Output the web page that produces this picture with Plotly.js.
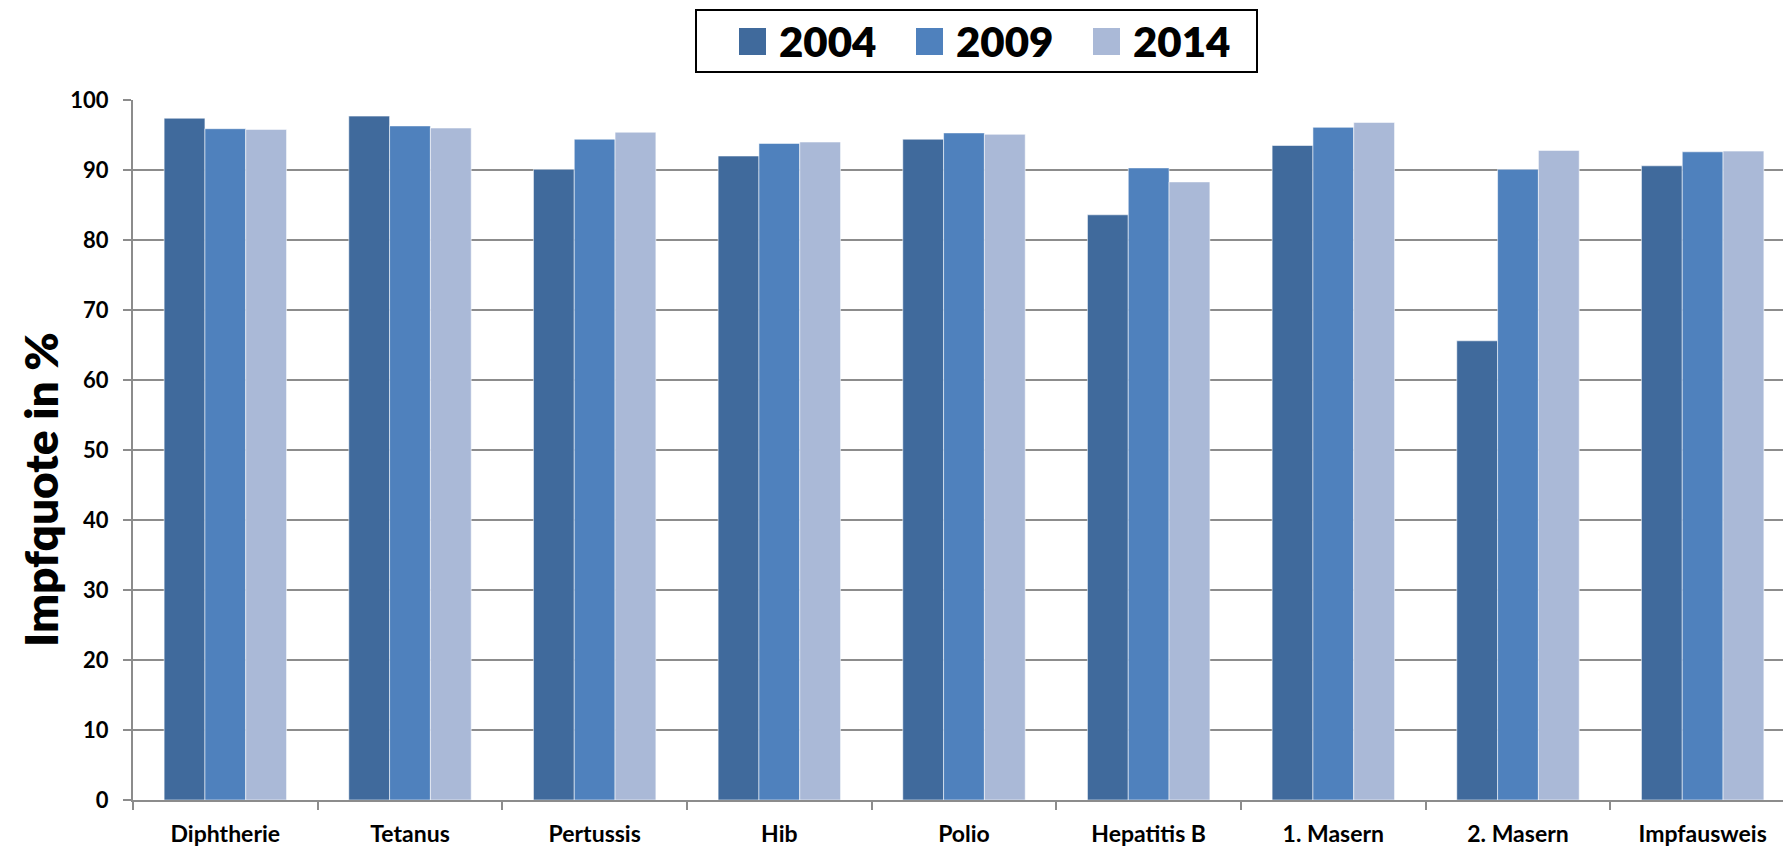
<!DOCTYPE html>
<html>
<head>
<meta charset="utf-8">
<script src="https://cdn.plot.ly/plotly-3.0.1.min.js"></script>
<style>
  html, body { margin: 0; padding: 0; overflow: hidden; background: #fff; }
  #chart { width: 1800px; height: 847px; }
</style>
</head>
<body>
<div id="chart"></div>
<script>
const categories = ["Diphtherie", "Tetanus", "Pertussis", "Hib", "Polio", "Hepatitis B", "1. Masern", "2. Masern", "Impfausweis"];
const seriesNames = ["2004", "2009", "2014"];
const values2004 = [97.4, 97.7, 90.1, 92.0, 94.4, 83.6, 93.5, 65.6, 90.6];
const values2009 = [95.9, 96.3, 94.4, 93.8, 95.3, 90.3, 96.1, 90.1, 92.6];
const values2014 = [95.8, 96.0, 95.4, 94.0, 95.1, 88.3, 96.8, 92.8, 92.7];
const colors = ["#406A9C", "#4F81BD", "#AAB9D7"];
const yTitle = "Impfquote in %";

const FONT = "Lato, 'DejaVu Sans', sans-serif";
const allValues = [values2004, values2009, values2014];

const traces = allValues.map((vals, i) => ({
  type: "bar",
  name: seriesNames[i],
  x: categories,
  y: vals,
  marker: { color: colors[i], line: { color: "rgba(255,255,255,0.55)", width: 1 } },
  hoverinfo: "x+y+name"
}));

// layout geometry (pixels)
const W = 1800, H = 847, ML = 133, MR = 5, MT = 100, MB = 47;
const PW = W - ML - MR, PH = H - MT - MB;
const px2x = p => (p - ML) / PW;
const py2y = p => (H - MB - p) / PH;

// manual legend
const shapes = [{
  type: "rect", xref: "paper", yref: "paper",
  x0: px2x(696), x1: px2x(1257), y0: py2y(72), y1: py2y(10),
  line: { color: "#000", width: 2 }, fillcolor: "rgba(0,0,0,0)"
}];
const annotations = [];
seriesNames.forEach((nm, i) => {
  const sx = 739 + i * 177;
  shapes.push({
    type: "rect", xref: "paper", yref: "paper",
    x0: px2x(sx), x1: px2x(sx + 27), y0: py2y(55), y1: py2y(28),
    line: { width: 0 }, fillcolor: colors[i]
  });
  annotations.push({
    xref: "paper", yref: "paper", x: px2x(sx + 38), y: py2y(41),
    xanchor: "left", yanchor: "middle", showarrow: false,
    text: nm,
    font: { family: FONT, size: 42, color: "#000", weight: 800 }
  });
});
annotations.push({
  xref: "paper", yref: "paper", x: px2x(40), y: py2y(490),
  xanchor: "center", yanchor: "middle", showarrow: false, textangle: -90,
  text: yTitle,
  font: { family: FONT, size: 46, color: "#000", weight: 800 }
});

const layout = {
  width: W, height: H,
  margin: { l: ML, r: MR, t: MT, b: MB, pad: 0 },
  paper_bgcolor: "#fff", plot_bgcolor: "#fff",
  showlegend: false,
  barmode: "group", bargap: 0.337, bargroupgap: 0,
  font: { family: FONT, color: "#000" },
  xaxis: {
    type: "category",
    showline: true, linecolor: "#8c8c8c", linewidth: 2,
    ticks: "outside", tickson: "boundaries", ticklen: 8, tickcolor: "#8c8c8c", tickwidth: 2,
    tickfont: { family: FONT, size: 23, color: "#000", weight: "bold" },
    ticklabelstandoff: 12,
    showgrid: false, zeroline: false, fixedrange: true
  },
  yaxis: {
    range: [0, 100], dtick: 10, tick0: 0,
    showline: true, linecolor: "#8c8c8c", linewidth: 2,
    ticks: "outside", ticklen: 8, tickcolor: "#8c8c8c", tickwidth: 2,
    tickfont: { family: FONT, size: 22, color: "#000", weight: "bold" },
    ticklabelstandoff: 10,
    showgrid: true, gridcolor: "#8c8c8c", gridwidth: 2,
    zeroline: false, fixedrange: true
  },
  shapes: shapes,
  annotations: annotations
};

Plotly.newPlot("chart", traces, layout, { displayModeBar: false, staticPlot: true });
</script>
</body>
</html>
